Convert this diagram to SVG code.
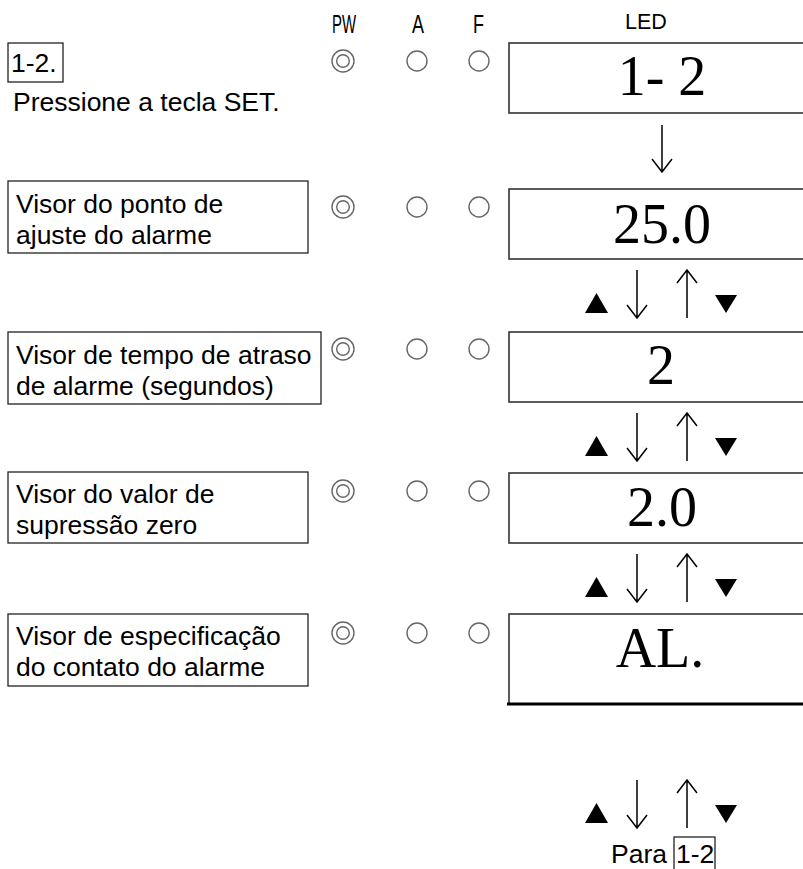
<svg xmlns="http://www.w3.org/2000/svg" width="803" height="869" viewBox="0 0 803 869">
<style>
.lbl{font-family:"Liberation Sans",Arial,sans-serif;font-size:26.5px;fill:#000}
.ind{font-family:"Liberation Sans",Arial,sans-serif;font-size:26px;fill:#000}
.led{font-family:"Liberation Serif","DejaVu Serif",serif;font-size:56px;fill:#000;text-anchor:middle}
.box{fill:#fff;stroke:#222;stroke-width:1.3}
.ledbox{fill:#fff;stroke:#333;stroke-width:1.6}
.c{fill:none;stroke:#666;stroke-width:1.4}
.arr{fill:none;stroke:#000;stroke-width:1.5}
.tri{fill:#000}
</style>
<defs>
<g id="leds1">
<circle class="c" cx="343" cy="0" r="11"/>
<circle class="c" cx="343" cy="0" r="6.3"/>
<circle class="c" cx="417" cy="0" r="10"/>
<circle class="c" cx="479" cy="0" r="10"/>
</g>
<g id="pair">
<polygon class="tri" points="596.5,293 608,313 585,313"/>
<path class="arr" d="M637,270 V318 M627,305 L637,318 L647,305"/>
<path class="arr" d="M687,318 V270 M677,283 L687,270 L697,283"/>
<polygon class="tri" points="715,295 737,295 726,313"/>
</g>
</defs>

<g id="header">
<text class="ind" x="332" y="33" textLength="24" lengthAdjust="spacingAndGlyphs">PW</text>
<text class="ind" x="412" y="33" textLength="12" lengthAdjust="spacingAndGlyphs">A</text>
<text class="ind" x="473" y="33" textLength="11" lengthAdjust="spacingAndGlyphs">F</text>
<text x="625" y="29" style="font-family:'Liberation Sans',Arial,sans-serif;font-size:21.5px">LED</text>
</g>

<g id="step-1-2">
<rect class="box" x="8" y="43" width="55" height="39"/>
<text class="lbl" x="11" y="72">1-2.</text>
<text class="lbl" x="13" y="111">Pressione a tecla SET.</text>
<use href="#leds1" y="61"/>
<rect class="ledbox" x="509" y="43" width="300" height="70"/>
<text class="led" x="662" y="95">1- 2</text>
</g>

<g id="alarm-setpoint">
<rect class="box" x="8" y="181" width="300" height="72"/>
<text class="lbl" x="16" y="213">Visor do ponto de</text>
<text class="lbl" x="16" y="244">ajuste do alarme</text>
<use href="#leds1" y="207"/>
<rect class="ledbox" x="509" y="189" width="300" height="70"/>
<text class="led" x="662" y="243">25.0</text>
</g>

<g id="alarm-delay">
<rect class="box" x="8" y="332" width="313" height="72"/>
<text class="lbl" x="16" y="364">Visor de tempo de atraso</text>
<text class="lbl" x="16" y="395">de alarme (segundos)</text>
<use href="#leds1" y="349"/>
<rect class="ledbox" x="509" y="332" width="300" height="70"/>
<text class="led" x="661" y="384">2</text>
</g>

<g id="zero-suppression">
<rect class="box" x="8" y="472" width="300" height="71"/>
<text class="lbl" x="16" y="503">Visor do valor de</text>
<text class="lbl" x="16" y="534">supressão zero</text>
<use href="#leds1" y="491"/>
<rect class="ledbox" x="509" y="473" width="300" height="70"/>
<text class="led" x="662" y="526">2.0</text>
</g>

<g id="contact-spec">
<rect class="box" x="8" y="614" width="300" height="72"/>
<text class="lbl" x="16" y="645">Visor de especificação</text>
<text class="lbl" x="16" y="676">do contato do alarme</text>
<use href="#leds1" y="633"/>
<rect class="ledbox" x="509" y="614" width="300" height="90"/>
<line x1="507" y1="704" x2="803" y2="704" stroke="#000" stroke-width="3"/>
<text class="led" x="660" y="667">AL.</text>
</g>

<g id="return">
<text class="lbl" x="611" y="863">Para</text>
<rect class="box" x="674" y="837" width="41" height="34"/>
<text class="lbl" x="676" y="863">1-2</text>
</g>

<g id="connectors">
<path class="arr" d="M662,125 V172 M652,159 L662,172 L672,159"/>
<use href="#pair"/>
<use href="#pair" y="143"/>
<use href="#pair" y="284"/>
<use href="#pair" y="510"/>
</g>
</svg>
